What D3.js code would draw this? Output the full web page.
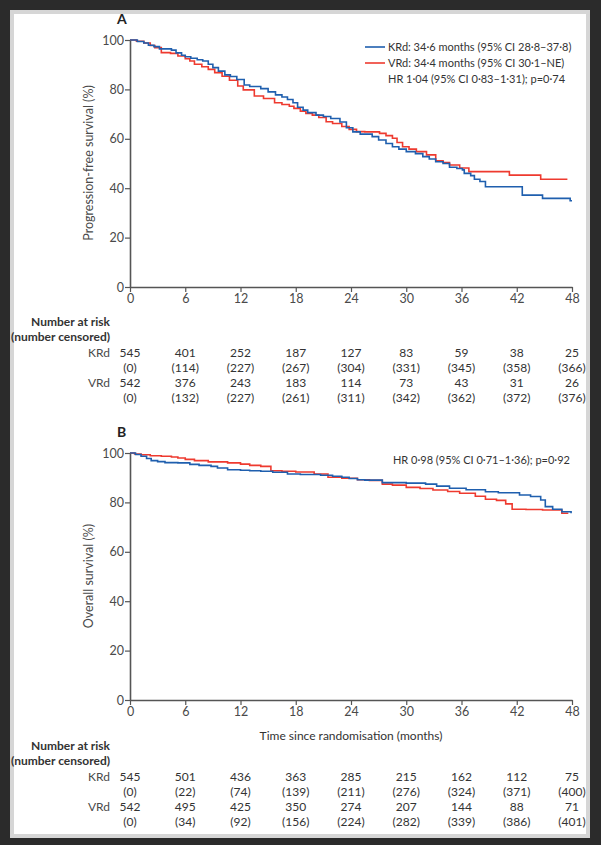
<!DOCTYPE html>
<html>
<head>
<meta charset="utf-8">
<script src="https://cdn.jsdelivr.net/npm/d3@7"></script>
<style>
  body { margin: 0; background: #2b2b2b; }
  svg text { font-family: Lato, "Open Sans", sans-serif; }
</style>
</head>
<body>
<svg id="chart" width="601" height="845"></svg>
<script>
// ---- data ----
var tickMonths = [0, 6, 12, 18, 24, 30, 36, 42, 48];
var yTicks = [0, 20, 40, 60, 80, 100];

// panel A, progression-free survival (step change points)
var pfsKrdT = [0,0.8,1.5,2.0,2.6,3.2,4.5,5.0,5.6,6.0,6.6,7.3,7.9,8.5,9.0,9.6,10.3,10.9,11.6,12.4,13.0,14.2,15.0,15.8,16.5,17.1,17.7,18.2,18.8,19.3,20.2,21.0,21.8,22.8,23.5,24.2,25.0,26.3,27.0,27.8,28.5,29.2,30.0,31.0,31.8,32.5,33.2,34.0,34.7,35.5,36.1,36.3,37.0,37.4,38.0,38.6,42.6,44.8,47.8,48];
var pfsKrdS = [100,99.4,98.8,97.9,97.3,96.4,95.9,94.8,93.8,93.2,92.6,92,91.5,90.2,88.8,87.4,85.9,85.2,84,81.8,81.2,80.3,79,77.8,76.9,75.9,74.6,72.8,71.6,70.6,69.6,69,68.2,66.8,64.5,62.8,61.9,60.9,59.5,58.1,56.8,55.8,54.8,54,52.8,51.8,50.7,50,48.5,48,47.4,46,45.1,43.6,42.7,40.6,37.2,35.9,34.9,34.9];
var pfsVrdT = [0,0.7,1.5,2.2,2.7,3.4,4.4,5.2,6.0,6.5,7.0,7.8,8.5,9.2,10.0,10.8,11.7,12.3,13.5,14.5,15.7,16.5,17.3,17.8,18.5,19.1,19.8,20.5,21.3,22.0,23.0,23.8,24.6,25.5,27.1,27.8,28.5,29.0,29.6,30.3,31.1,32.2,33.2,34.0,34.7,35.8,36.8,41.2,44.6,47.5];
var pfsVrdS = [100,99.5,98.8,97.8,96.9,94.9,94.6,93.5,92.4,91.5,90.2,89.2,88.1,86.8,85.3,83.7,81.4,79.8,77.3,76.3,74.6,73.9,73.2,72.3,71.2,70.3,69.6,68.6,66.9,66.2,65.0,63.8,62.9,62.8,62.2,61.3,60.2,58.5,56.8,55.8,54.8,53.5,51.1,50.4,49.4,48.2,46.7,45.3,43.6,43.6];

// panel B, overall survival
var osKrdT = [0,0.6,1.2,1.8,2.3,3.0,3.8,5.2,6.5,7.5,8.8,9.5,10.6,12.0,13.0,14.2,15.5,17.1,18.5,20.7,22.0,23.0,23.8,24.7,25.5,27.4,30.0,32.1,33.3,34.7,36.5,38.6,40.0,42.3,43.5,44.6,45.1,45.9,46.9,47.9];
var osKrdS = [100,99.4,98.7,97.8,96.9,96.5,96.1,96.0,95.4,95.0,94.6,93.9,93.2,93.0,92.8,92.6,92.2,91.5,91.3,91.0,90.6,90.2,89.7,89.2,89.0,88.0,87.8,87.4,86.6,85.7,85.1,84.3,83.9,83.0,82.4,81.0,78.3,77.2,76.2,75.6];
var osVrdT = [0,0.5,1.2,2.2,3.4,4.5,5.2,6.0,7.0,8.5,10.6,12.0,13.0,14.2,15.3,16.5,18.0,20.0,21.5,23.0,24.7,26.0,27.4,28.5,30.0,31.5,32.9,34.5,35.8,37.5,38.6,39.8,40.8,41.5,43.0,44.8,46.9,47.6];
var osVrdS = [100,99.6,99.3,98.9,98.7,98.4,98.0,97.4,96.9,96.4,96.0,95.5,95.0,94.6,92.8,92.6,92.3,91.5,90.2,89.8,89.2,88.9,87.4,87.0,86.1,85.6,85.0,84.4,83.7,82.5,81.3,80.8,79.4,77.2,77.1,76.9,75.6,75.6];

// numbers at risk (censored)
var pfsKrdRisk = [545,401,252,187,127,83,59,38,25];
var pfsKrdCens = [0,114,227,267,304,331,345,358,366];
var pfsVrdRisk = [542,376,243,183,114,73,43,31,26];
var pfsVrdCens = [0,132,227,261,311,342,362,372,376];
var osKrdRisk = [545,501,436,363,285,215,162,112,75];
var osKrdCens = [0,22,74,139,211,276,324,371,400];
var osVrdRisk = [542,495,425,350,274,207,144,88,71];
var osVrdCens = [0,34,92,156,224,282,339,386,401];

var blue = "#1f5fae", red = "#ee3a2f";
var axisCol = "#555", txtCol = "#4a4a4a";
var font = "Lato, 'Open Sans', sans-serif";

var svg = d3.select("#chart");

// card
svg.append("rect")
  .attr("x", 12).attr("y", 12).attr("width", 576).attr("height", 824)
  .style("fill", "#fff").style("stroke", "#d6d6d6").style("stroke-width", 4);

var x = d3.scaleLinear().domain([0, 48]).range([130, 572]);

function zip(t, s) { return t.map(function(d, i) { return [d, s[i]]; }); }

function panel(top, label, yTitle, curves, risk, showTime) {
  var y = d3.scaleLinear().domain([0, 100]).range([top + 247, top]);
  var g = svg.append("g");

  g.append("text").attr("x", 117).attr("y", top - 16)
    .style("font-size", "14px").style("font-weight", "bold").style("fill", "#222")
    .text(label);

  // curves
  var line = d3.line().curve(d3.curveStepAfter)
    .x(function(d) { return x(d[0]); })
    .y(function(d) { return y(d[1]); });
  curves.forEach(function(c) {
    g.append("path").datum(c.data).attr("d", line)
      .style("fill", "none").style("stroke", c.color).style("stroke-width", "1.6px");
  });

  // axes
  var ya = g.append("g").attr("transform", "translate(" + x(0) + ",0)")
    .call(d3.axisLeft(y).tickValues(yTicks).tickSize(5).tickSizeOuter(0));
  var xa = g.append("g").attr("transform", "translate(0," + y(0) + ")")
    .call(d3.axisBottom(x).tickValues(tickMonths).tickSize(5).tickSizeOuter(0));
  [ya, xa].forEach(function(a) {
    a.select(".domain").style("stroke", axisCol).style("stroke-width", "1.6px");
    a.selectAll(".tick line").style("stroke", axisCol).style("stroke-width", "1.2px");
    a.selectAll("text").style("font-size", "12.5px").style("fill", txtCol)
      .style("font-family", font);
  });
  ya.selectAll("text").attr("x", -6);
  xa.selectAll("text").attr("y", 7);

  g.append("text")
    .attr("transform", "translate(93," + (top + 123) + ") rotate(-90)")
    .attr("text-anchor", "middle")
    .style("font-size", "12.5px").style("fill", txtCol)
    .text(yTitle);

  var base = top + 247;
  if (showTime) {
    g.append("text").attr("x", x(24)).attr("y", base + 40)
      .attr("text-anchor", "middle").style("font-size", "12px").style("fill", "#333")
      .text("Time since randomisation (months)");
  }
  var r0 = showTime ? base + 50 : base + 39;
  g.append("text").attr("x", 110).attr("y", r0).attr("text-anchor", "end")
    .style("font-size", "12px").style("font-weight", "bold").style("fill", "#333")
    .text("Number at risk");
  g.append("text").attr("x", 110).attr("y", r0 + 15).attr("text-anchor", "end")
    .style("font-size", "12px").style("font-weight", "bold").style("fill", "#333")
    .text("(number censored)");

  risk.forEach(function(r, k) {
    var ry = r0 + 31 + k * 30;
    g.append("text").attr("x", 110).attr("y", ry).attr("text-anchor", "end")
      .style("font-size", "12px").style("fill", txtCol).text(r.name);
    g.selectAll(null).data(r.n).enter().append("text")
      .attr("x", function(d, i) { return x(tickMonths[i]); }).attr("y", ry)
      .attr("text-anchor", "middle").style("font-size", "12px").style("fill", "#333")
      .text(function(d) { return d; });
    g.selectAll(null).data(r.c).enter().append("text")
      .attr("x", function(d, i) { return x(tickMonths[i]); }).attr("y", ry + 15)
      .attr("text-anchor", "middle").style("font-size", "12px").style("fill", "#333")
      .text(function(d) { return "(" + d + ")"; });
  });
  return g;
}

var gA = panel(40, "A", "Progression-free survival (%)",
  [{ data: zip(pfsVrdT, pfsVrdS), color: red }, { data: zip(pfsKrdT, pfsKrdS), color: blue }],
  [{ name: "KRd", n: pfsKrdRisk, c: pfsKrdCens }, { name: "VRd", n: pfsVrdRisk, c: pfsVrdCens }],
  false);

var gB = panel(453, "B", "Overall survival (%)",
  [{ data: zip(osVrdT, osVrdS), color: red }, { data: zip(osKrdT, osKrdS), color: blue }],
  [{ name: "KRd", n: osKrdRisk, c: osKrdCens }, { name: "VRd", n: osVrdRisk, c: osVrdCens }],
  true);

// legend panel A
var legend = [
  { t: "KRd: 34·6 months (95% CI 28·8–37·8)", c: blue },
  { t: "VRd: 34·4 months (95% CI 30·1–NE)", c: red },
  { t: "HR 1·04 (95% CI 0·83–1·31); p=0·74", c: null }
];
legend.forEach(function(l, i) {
  var ly = 47 + i * 16;
  if (l.c) {
    gA.append("line").attr("x1", 365).attr("x2", 385).attr("y1", ly).attr("y2", ly)
      .style("stroke", l.c).style("stroke-width", "1.6px");
  }
  gA.append("text").attr("x", 388).attr("y", ly + 4)
    .style("font-size", "11px").style("fill", "#333").text(l.t);
});

gB.append("text").attr("x", 570).attr("y", 464).attr("text-anchor", "end")
  .style("font-size", "11px").style("fill", "#333")
  .text("HR 0·98 (95% CI 0·71–1·36); p=0·92");
</script>
</body>
</html>
